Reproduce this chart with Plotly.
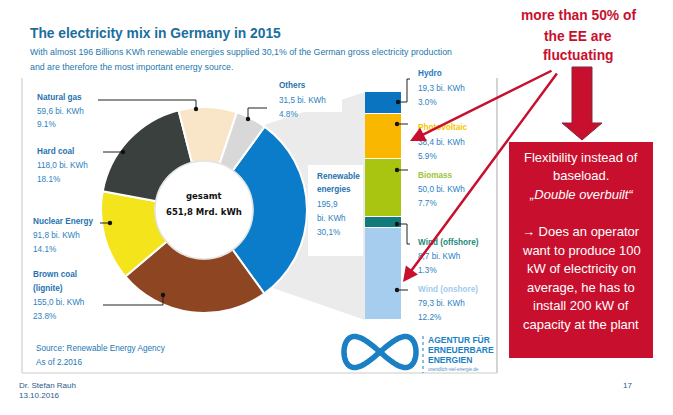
import numpy as np
import plotly.graph_objects as go

W, H = 673, 415

# ---------------- data ----------------
mix_labels = ["Renewable energies", "Brown coal (lignite)", "Nuclear Energy",
              "Hard coal", "Natural gas", "Others"]
mix_values = [195.9, 155.0, 91.8, 118.0, 59.6, 31.5]
mix_value_text = ["195,9", "155,0 bi. KWh", "91,8 bi. KWh", "118,0 bi. KWh",
                  "59,6 bi. KWh", "31,5 bi. KWh"]
mix_pct_text = ["30,1%", "23.8%", "14.1%", "18.1%", "9.1%", "4.8%"]
mix_colors = ["#0b7cc9", "#8e4522", "#f4e41c", "#3a403d", "#f9e5c8", "#d8d8d8"]

ee_labels = ["Wind (onshore)", "Wind (offshore)", "Biomass", "Photovoltaic", "Hydro"]
ee_values = [79.3, 8.7, 50.0, 38.4, 19.3]
ee_value_text = ["79,3 bi. KWh", "8,7 bi. KWh", "50,0 bi. KWh", "38,4 bi. KWh", "19,3 bi. KWh"]
ee_pct_text = ["12.2%", "1.3%", "7.7%", "5.9%", "3.0%"]
ee_colors = ["#a7cdee", "#137a7c", "#a9c512", "#f9b700", "#0b74c0"]
ee_label_colors = ["#9fcbee", "#1a8a7a", "#9cc43a", "#f7c600", "#1f78c0"]

total_text = "651,8 Mrd. kWh"

# ---------------- helpers ----------------
def px(x):
    return x / W

def py(y):
    return 1 - y / H

FONT = "Liberation Sans, Arial"
BLUE_TXT = "#2477b3"

annotations = []
shapes = []

def text(x, y, s, size=8, color=BLUE_TXT, anchor="left", bold=False, italic=False,
         family=FONT):
    if bold:
        s = "<b>" + s + "</b>"
    if italic:
        s = "<i>" + s + "</i>"
    annotations.append(dict(x=px(x), y=py(y), xref="paper", yref="paper", text=s,
                            showarrow=False, xanchor=anchor, yanchor="middle",
                            borderpad=0, font=dict(size=size, color=color, family=family)))

def line(x0, y0, x1, y1, color="#222", width=1, dash=None, layer="above"):
    d = dict(type="line", xref="paper", yref="paper", x0=px(x0), y0=py(y0),
             x1=px(x1), y1=py(y1), line=dict(color=color, width=width), layer=layer)
    if dash:
        d["line"]["dash"] = dash
    shapes.append(d)

def dot(x, y, r=2.2, color="#111"):
    shapes.append(dict(type="circle", xref="paper", yref="paper",
                       x0=px(x - r), x1=px(x + r), y0=py(y + r), y1=py(y - r),
                       fillcolor=color, line=dict(width=0), layer="above"))

def poly(points, fill, lcolor=None, lwidth=0, layer="below", closed=True):
    p = "M " + " L ".join(f"{px(a):.5f},{py(b):.5f}" for a, b in points)
    if closed:
        p += " Z"
    d = dict(type="path", xref="paper", yref="paper", path=p, layer=layer,
             line=dict(color=lcolor or "rgba(0,0,0,0)", width=lwidth))
    if fill:
        d["fillcolor"] = fill
    shapes.append(d)

def rect(x0, y0, x1, y1, fill, layer="below", lcolor=None, lwidth=0):
    shapes.append(dict(type="rect", xref="paper", yref="paper", x0=px(x0), x1=px(x1),
                       y0=py(y1), y1=py(y0), fillcolor=fill, layer=layer,
                       line=dict(color=lcolor or "rgba(0,0,0,0)", width=lwidth)))

# ---------------- background decorations ----------------
poly([(264, 125), (365, 92), (365, 320), (270, 287), (204, 210)], "#ebebeb")
rect(270, 76, 342, 112, "white")
rect(308, 165, 363, 256, "white")
line(22, 78, 22, 373, color="#d9d9d9", width=1.5, layer="below")
line(22, 373, 497, 373, color="#dcdcdc", width=1.5, layer="below")
line(497, 78, 497, 373, color="#d4d4d4", width=2, layer="below")
shapes.append(dict(type="circle", xref="paper", yref="paper",
                   x0=px(204 - 49), x1=px(204 + 49), y0=py(210 + 49), y1=py(210 - 49),
                   fillcolor="white", line=dict(color="#e2e2e2", width=1.5), layer="above"))

# ---------------- traces ----------------
fig = go.Figure()
fig.add_trace(go.Pie(
    labels=mix_labels, values=mix_values, sort=False, direction="clockwise",
    rotation=36, hole=0.47, textinfo="none", hoverinfo="skip",
    marker=dict(colors=mix_colors, line=dict(color="white", width=2)),
    domain=dict(x=[px(204 - 103), px(204 + 103)], y=[py(210 + 103), py(210 - 103)]),
    showlegend=False))

for lab, val, col in zip(ee_labels, ee_values, ee_colors):
    fig.add_trace(go.Bar(x=["EE"], y=[val], name=lab,
                         marker=dict(color=col, line=dict(color="white", width=1.2)),
                         hoverinfo="skip", showlegend=False, width=1))

# ---------------- text ----------------
text(29, 33, "The electricity mix in Germany in 2015", size=13.8, color="#1a6e9e", bold=True)
text(29, 52, "With almost 196 Billions KWh renewable energies supplied 30,1% of the German gross electricity production",
     size=8.8, color="#2477ad")
text(29, 67, "and are therefore the most important energy source.", size=8.8, color="#2477ad")

mix_label_pos = {
    "Natural gas": (36, 97, ["Natural gas"]),
    "Hard coal": (36, 151, ["Hard coal"]),
    "Nuclear Energy": (32, 221, ["Nuclear Energy"]),
    "Brown coal (lignite)": (32, 274, ["Brown coal", "(lignite)"]),
    "Others": (278, 86, ["Others"]),
    "Renewable energies": (316, 176, ["Renewable", "energies"]),
}
for lab, vt, pt in zip(mix_labels, mix_value_text, mix_pct_text):
    x0, y0, names = mix_label_pos[lab]
    lines = [(n, True) for n in names]
    if lab == "Renewable energies":
        lines += [(vt, False), ("bi. KWh", False), (pt, False)]
    else:
        lines += [(vt, False), (pt, False)]
    for i, (s, b) in enumerate(lines):
        text(x0, y0 + i * 14, s, size=8.2, color="#1f73b0" if b else "#2c7fbf", bold=b)

line(98, 100, 196, 100); line(196, 100, 196, 109); dot(196, 109)
line(103, 152, 123, 152); dot(123, 152)
line(100, 223, 110, 223); dot(110, 223)
line(103, 305, 163, 305); line(163, 305, 163, 295); dot(163, 295)
line(267, 108, 248, 108); line(248, 108, 248, 119); dot(248, 119)

ee_label_y = {"Hydro": 74, "Photovoltaic": 128, "Biomass": 175,
              "Wind (offshore)": 242, "Wind (onshore)": 289}
for lab, vt, pt, lc in zip(ee_labels, ee_value_text, ee_pct_text, ee_label_colors):
    y0 = ee_label_y[lab]
    text(417, y0, lab, size=8.2, color=lc, bold=True)
    text(417, y0 + 14, vt, size=8.2, color="#2c7fbf")
    text(417, y0 + 28, pt, size=8.2, color="#2c7fbf")

dot(398, 102); line(398, 102, 407, 102); line(407, 102, 407, 79); line(407, 79, 410, 79)
dot(397, 124); line(397, 124, 408, 124)
dot(397, 170); line(397, 170, 408, 170)
dot(397, 224); line(397, 224, 407, 224); line(407, 224, 407, 244); line(407, 244, 410, 244)
dot(397, 290); line(397, 290, 408, 290)

text(204, 196, "gesamt", size=8.5, color="#111", anchor="center", bold=True, family="DejaVu Sans")
text(204, 212, total_text, size=8.5, color="#111", anchor="center", bold=True, family="DejaVu Sans")

text(35, 348, "Source: Renewable Energy Agency", size=8.2, color="#2477b3")
text(35, 362, "As of 2.2016", size=8.2, color="#2477b3")
text(18, 385, "Dr. Stefan Rauh", size=8, color="#1f5b8a")
text(18, 395, "13.10.2016", size=8, color="#1f5b8a")
text(627, 385, "17", size=8, color="#1f5b8a", anchor="center")

t = np.linspace(0, 2 * np.pi, 121)
inf_pts = [(380 + 36 * np.cos(a), 352 + 15.5 * np.sin(2 * a)) for a in t]
poly(inf_pts, None, lcolor="#1a7fc4", lwidth=5.5, layer="above", closed=False)
line(423, 336, 423, 373, color="#1a7fc4", width=1, dash="dot")
text(427, 340, "AGENTUR FÜR", size=8.5, color="#1a7fc4", bold=True)
text(427, 350, "ERNEUERBARE", size=8.5, color="#1a7fc4", bold=True)
text(427, 360, "ENERGIEN", size=8.5, color="#1a7fc4", bold=True)
text(427, 369, "unendlich-viel-energie.de", size=4.5, color="#5a8fbf")

RED = "#c8102e"
for i, s in enumerate(["more than 50% of", "the EE are", "fluctuating"]):
    text(578, 16 + i * 20, s, size=13.8, color=RED, anchor="center", bold=True)
poly([(572, 67), (592, 67), (592, 123), (602, 123), (582, 140), (562, 123), (572, 123)],
     RED, lcolor="#7a2a45", lwidth=1, layer="above")
rect(509, 142, 653, 358, RED, layer="above")
box_lines = [("Flexibility instead of", False), ("baseload.", False), ("„Double overbuilt“", True), ("", False),
             ("→ Does an operator", False), ("want to produce 100", False), ("kW of electricity on", False),
             ("average, he has to", False), ("install 200 kW of", False), ("capacity at the plant", False)]
for i, (s, it) in enumerate(box_lines):
    if s:
        text(581, 157 + i * 18.6, s, size=13, color="white", anchor="center", italic=it)

for tip, start in [((410, 141), (553, 70)), ((403, 282), (558, 72))]:
    annotations.append(dict(x=px(tip[0]), y=py(tip[1]), xref="paper", yref="paper",
                            ax=start[0] - tip[0], ay=start[1] - tip[1],
                            axref="pixel", ayref="pixel",
                            text="", showarrow=True, arrowhead=2, arrowsize=1.2,
                            arrowwidth=2.5, arrowcolor=RED))

fig.update_layout(
    width=W, height=H, margin=dict(l=0, r=0, t=0, b=0),
    paper_bgcolor="white", plot_bgcolor="rgba(0,0,0,0)",
    barmode="stack", bargap=0,
    xaxis=dict(domain=[px(365), px(402)], range=[-0.5, 0.5], visible=False, fixedrange=True),
    yaxis=dict(domain=[py(320), py(92)], range=[0, sum(ee_values)], visible=False, fixedrange=True),
    shapes=shapes, annotations=annotations, showlegend=False,
)

fig.write_html("out.html", config={"displayModeBar": False},
               post_script="document.body.style.margin='0px';")
